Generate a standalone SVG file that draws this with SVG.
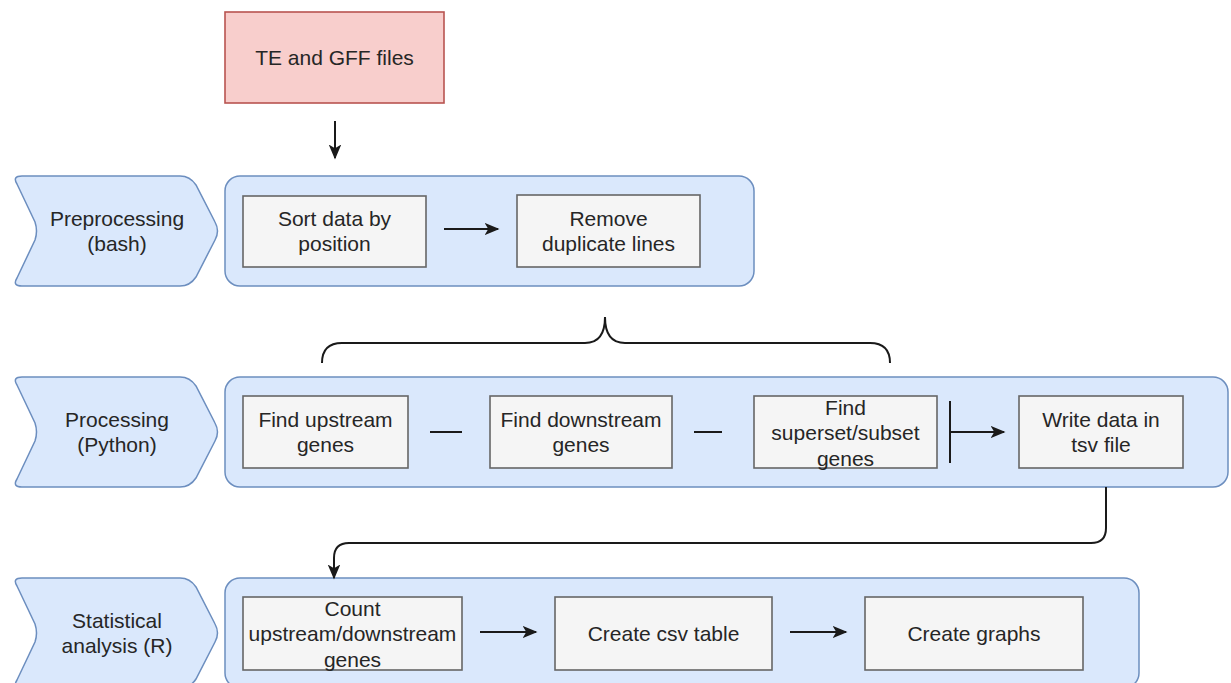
<svg xmlns="http://www.w3.org/2000/svg" width="1231" height="683" viewBox="0 0 1231 683">
<defs>
<style>
.lane{fill:#dae8fc;stroke:#6c8ebf;stroke-width:1.5}
.box{fill:#f5f5f5;stroke:#666666;stroke-width:1.6}
.src{fill:#f8cecc;stroke:#b85450;stroke-width:1.6}
.t{font-family:"Liberation Sans",Arial,Helvetica,sans-serif;font-size:21px;fill:#262626;text-anchor:middle}
.c{fill:none;stroke:#1a1a1a;stroke-width:2}
</style>
<marker id="ah" viewBox="0 0 10 10" refX="9" refY="5" markerWidth="7.5" markerHeight="7.5" orient="auto" markerUnits="strokeWidth">
<path d="M0,0.8 L10,5 L0,9.2 L2.5,5 Z" fill="#1a1a1a"/>
</marker>
</defs>
<rect width="1231" height="683" fill="#ffffff"/>

<g id="te-gff">
<rect class="src" x="225" y="12" width="219" height="91"/>
<text class="t" x="334.5" y="65">TE and GFF files</text>
</g>

<g id="lane-preprocessing">
<path class="lane" d="M22,176 L180,176 Q190,176 196,185 L215,222 Q220,231 215,240 L196,277 Q190,286 180,286 L22,286 Q12,286 17,278 L35,240 Q38,231 35,222 L17,184 Q12,176 22,176 Z"/>
<text class="t" x="117" y="226">Preprocessing</text>
<text class="t" x="117" y="251">(bash)</text>
</g>
<g id="container-preprocessing">
<rect class="lane" x="225" y="176" width="529" height="110" rx="15"/>
</g>
<g id="sort">
<rect class="box" x="243" y="196" width="183" height="71"/>
<text class="t" x="334.5" y="226">Sort data by</text>
<text class="t" x="334.5" y="251">position</text>
</g>
<g id="remove">
<rect class="box" x="517" y="195" width="183" height="72"/>
<text class="t" x="608.5" y="226">Remove</text>
<text class="t" x="608.5" y="251">duplicate lines</text>
</g>

<g id="lane-processing">
<path class="lane" d="M22,377 L180,377 Q190,377 196,386 L215,423 Q220,432 215,441 L196,478 Q190,487 180,487 L22,487 Q12,487 17,479 L35,441 Q38,432 35,423 L17,385 Q12,377 22,377 Z"/>
<text class="t" x="117" y="427">Processing</text>
<text class="t" x="117" y="452">(Python)</text>
</g>
<g id="container-processing">
<rect class="lane" x="225" y="377" width="1003" height="110" rx="15"/>
</g>
<g id="upstream">
<rect class="box" x="243" y="396" width="165" height="72"/>
<text class="t" x="325.5" y="427">Find upstream</text>
<text class="t" x="325.5" y="452">genes</text>
</g>
<g id="downstream">
<rect class="box" x="490" y="396" width="182" height="72"/>
<text class="t" x="581" y="427">Find downstream</text>
<text class="t" x="581" y="452">genes</text>
</g>
<g id="superset">
<rect class="box" x="754" y="396" width="183" height="72"/>
<text class="t" x="845.5" y="415">Find</text>
<text class="t" x="845.5" y="440">superset/subset</text>
<text class="t" x="845.5" y="466">genes</text>
</g>
<g id="write">
<rect class="box" x="1019" y="396" width="164" height="72"/>
<text class="t" x="1101" y="427">Write data in</text>
<text class="t" x="1101" y="452">tsv file</text>
</g>

<g id="lane-statistical">
<path class="lane" d="M22,578 L180,578 Q190,578 196,587 L215,624 Q220,633 215,642 L196,679 Q190,688 180,688 L22,688 Q12,688 17,680 L35,642 Q38,633 35,624 L17,586 Q12,578 22,578 Z"/>
<text class="t" x="117" y="628">Statistical</text>
<text class="t" x="117" y="653">analysis (R)</text>
</g>
<g id="container-statistical">
<rect class="lane" x="225" y="578" width="914" height="110" rx="15"/>
</g>
<g id="count">
<rect class="box" x="243" y="597" width="219" height="73"/>
<text class="t" x="352.5" y="616">Count</text>
<text class="t" x="352.5" y="641">upstream/downstream</text>
<text class="t" x="352.5" y="667">genes</text>
</g>
<g id="csv">
<rect class="box" x="555" y="597" width="217" height="73"/>
<text class="t" x="663.5" y="641">Create csv table</text>
</g>
<g id="graphs">
<rect class="box" x="865" y="597" width="218" height="73"/>
<text class="t" x="974" y="641">Create graphs</text>
</g>

<g id="connectors">
<path class="c" d="M335,121 L335,158" marker-end="url(#ah)"/>
<path class="c" d="M444,229 L498,229" marker-end="url(#ah)"/>
<path class="c" d="M322,363 Q322,343 342,343 L585,343 Q605,343 605,317 Q605,343 625,343 L870,343 Q890,343 890,363"/>
<path class="c" d="M430,432 L462,432"/>
<path class="c" d="M694,432 L722,432"/>
<path class="c" d="M950,401 L950,463"/>
<path class="c" d="M950,432 L1004,432" marker-end="url(#ah)"/>
<path class="c" d="M1106,487 L1106,528 Q1106,543 1091,543 L349,543 Q334,543 334,558 L334,578" marker-end="url(#ah)"/>
<path class="c" d="M480,632 L536,632" marker-end="url(#ah)"/>
<path class="c" d="M790,632 L846,632" marker-end="url(#ah)"/>
</g>
</svg>
